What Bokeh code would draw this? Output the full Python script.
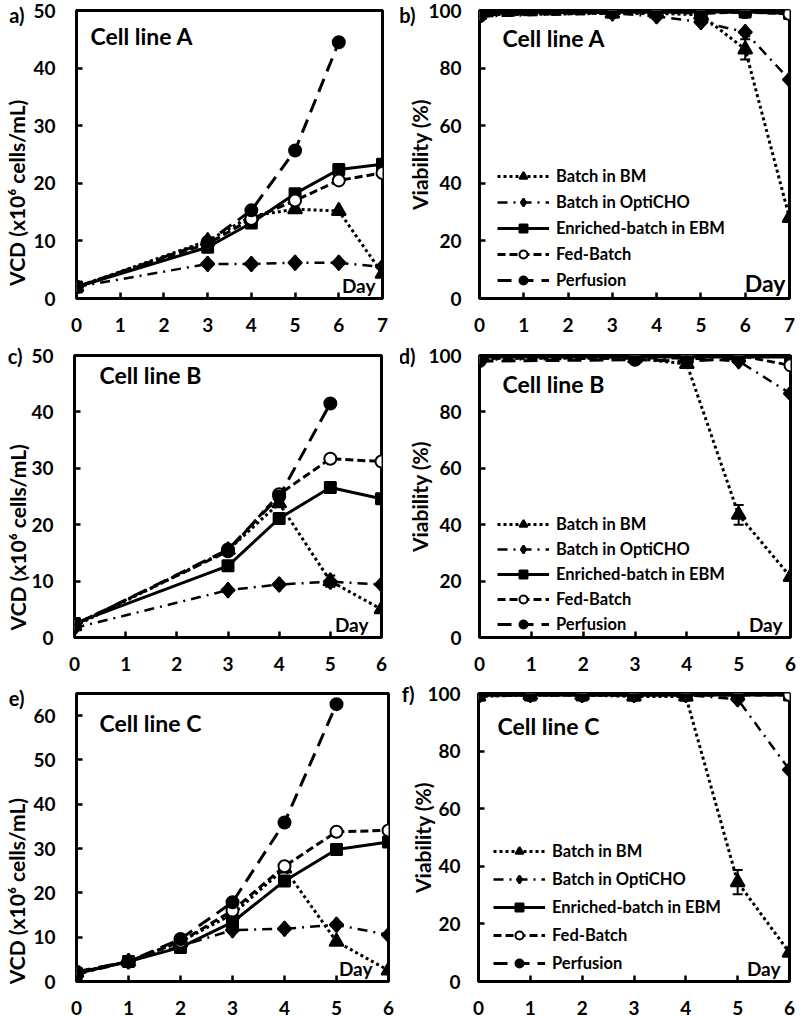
from bokeh.plotting import figure
from bokeh.models import (Range1d, FixedTicker, Label, Legend, LegendItem,
                          Whisker, ColumnDataSource, TeeHead, LinearAxis)
from bokeh.layouts import column, row
from bokeh.embed import file_html
from bokeh.resources import INLINE

FONT = "Lato"

# ---------------- data ----------------
series_names = ["Batch in BM", "Batch in OptiCHO", "Enriched-batch in EBM",
                "Fed-Batch", "Perfusion"]

# Cell line A
days_a = [0, 3, 4, 5, 6, 7]
days_a_perf = [0, 3, 4, 5, 6]
vcd_a_bm = [2.0, 10.0, 14.3, 15.5, 15.2, 4.3]
vcd_a_opt = [2.0, 6.0, 6.0, 6.2, 6.2, 5.5]
vcd_a_enr = [2.0, 8.9, 13.1, 18.2, 22.4, 23.3]
vcd_a_fed = [2.0, 9.5, 13.8, 17.0, 20.5, 21.8]
vcd_a_per = [2.0, 9.8, 15.3, 25.7, 44.5]

via_a_bm = [98.5, 99.0, 99.0, 98.5, 86.5, 28.0]
via_a_opt = [98.0, 99.0, 98.0, 96.0, 92.5, 76.0]
via_a_enr = [99.0, 99.5, 99.5, 99.5, 99.5, 99.0]
via_a_fed = [98.5, 99.5, 99.5, 99.0, 99.5, 98.8]
via_a_per = [98.0, 99.5, 99.5, 99.5, 99.5]
via_a_bm_err = [0, 0, 0, 0, 3.5, 0]

# Cell line B
days_b = [0, 3, 4, 5, 6]
days_b_perf = [0, 3, 4, 5]
vcd_b_bm = [2.0, 15.5, 23.8, 10.0, 5.0]
vcd_b_opt = [1.7, 8.4, 9.4, 9.9, 9.4]
vcd_b_enr = [2.5, 12.7, 21.1, 26.6, 24.6]
vcd_b_fed = [2.3, 15.3, 25.4, 31.7, 31.2]
vcd_b_per = [2.2, 15.6, 25.0, 41.5]
vcd_b_bm_err = [0, 0, 0, 1.0, 0]

via_b_bm = [99.0, 99.0, 97.0, 43.5, 21.5]
via_b_opt = [98.5, 99.0, 99.0, 98.0, 86.5]
via_b_enr = [99.5, 99.5, 99.5, 99.5, 99.5]
via_b_fed = [99.0, 99.5, 100.0, 100.0, 96.5]
via_b_per = [98.0, 98.5, 98.0, 99.0]
via_b_bm_err = [0, 0, 0, 3.5, 0]

# Cell line C
days_c = [0, 1, 2, 3, 4, 5, 6]
days_c_perf = [0, 1, 2, 3, 4, 5]
vcd_c_bm = [2.0, 4.5, 9.0, 15.2, 25.5, 9.0, 2.5]
vcd_c_opt = [1.5, 4.5, 8.0, 11.6, 11.9, 12.8, 10.5]
vcd_c_enr = [1.8, 4.5, 7.7, 13.4, 22.7, 29.8, 31.5]
vcd_c_fed = [2.0, 4.5, 9.0, 16.0, 26.0, 33.8, 34.1]
vcd_c_per = [2.2, 4.5, 9.6, 17.9, 35.9, 62.6]

via_c_bm = [99.0, 99.5, 99.5, 99.0, 99.0, 34.5, 10.0]
via_c_opt = [99.0, 99.5, 99.5, 99.5, 99.5, 98.0, 73.5]
via_c_enr = [99.5, 99.5, 99.5, 99.5, 99.5, 99.5, 99.5]
via_c_fed = [99.5, 99.5, 99.5, 99.5, 99.5, 99.5, 99.5]
via_c_per = [99.5, 99.5, 99.5, 99.5, 99.5, 99.5]
via_c_bm_err = [0, 0, 0, 0, 0, 4.2, 0]

vcd_title = "VCD (x10\u2076 cells/mL)"
via_title = "Viability (%)"
vcd_ticks = [0, 10, 20, 30, 40, 50]
vcd_ticks_c = [0, 10, 20, 30, 40, 50, 60]
via_ticks = [0, 20, 40, 60, 80, 100]

NB = "\u00a0"  # non-breaking space, used to nudge the VCD title downwards

# ---------------- styles ----------------
STYLES = [
    dict(dash="3 3", lw=3, marker="triangle", size=14, angle=0.0, fill="black"),
    dict(dash="10 6 2 6", lw=2.5, marker="square", size=9.5, angle=0.785398, fill="black"),
    dict(dash="solid", lw=3, marker="square", size=11, angle=0.0, fill="black"),
    dict(dash="8 4", lw=3, marker="circle", size=12, angle=0.0, fill="white"),
    dict(dash="14 8", lw=3, marker="circle", size=12, angle=0.0, fill="black"),
]


def make_fig(w, h, bl, br, bt, bb, xmax, ymax, xticks, yticks,
             ystand, letter, letter_y, letter_stand, title, title_stand, title_size):
    p = figure(width=w, height=h, output_backend="svg", toolbar_location=None,
               x_range=Range1d(0, xmax), y_range=Range1d(0, ymax),
               min_border_left=bl, min_border_right=br,
               min_border_top=bt, min_border_bottom=bb)
    p.xgrid.visible = False
    p.ygrid.visible = False
    p.outline_line_color = "black"
    p.outline_line_width = 3
    p.background_fill_color = "white"
    p.border_fill_color = "white"
    for ax in (p.xaxis[0], p.yaxis[0]):
        ax.axis_line_color = None
        ax.major_tick_in = 6
        ax.major_tick_out = 0
        ax.minor_tick_line_color = None
        ax.major_tick_line_width = 2.5
        ax.major_tick_line_color = "black"
        ax.major_label_text_font = FONT
        ax.major_label_text_font_style = "bold"
        ax.major_label_text_font_size = "19px"
        ax.major_label_text_color = "black"
    p.xaxis[0].ticker = FixedTicker(ticks=xticks)
    p.yaxis[0].ticker = FixedTicker(ticks=yticks)
    p.xaxis[0].major_label_standoff = 19
    p.yaxis[0].major_label_standoff = ystand
    # outer left axis carrying the panel letter and the axis title
    ax2 = LinearAxis(ticker=FixedTicker(ticks=[letter_y]),
                     major_label_overrides={letter_y: letter},
                     axis_line_color=None, major_tick_line_color=None,
                     minor_tick_line_color=None, major_tick_out=0, major_tick_in=0,
                     major_label_standoff=letter_stand,
                     major_label_text_font=FONT, major_label_text_font_style="bold",
                     major_label_text_font_size="20px", major_label_text_color="black",
                     axis_label=title, axis_label_standoff=title_stand,
                     axis_label_text_font=FONT, axis_label_text_font_style="bold",
                     axis_label_text_font_size=title_size, axis_label_text_color="black")
    p.add_layout(ax2, "left")
    return p


def draw(p, xs_list, ys_list, err=None):
    rends = []
    if err is not None:
        ex, ey, ee = err
        lower = [y - e for y, e in zip(ey, ee) if e > 0]
        upper = [y + e for y, e in zip(ey, ee) if e > 0]
        base = [x for x, e in zip(ex, ee) if e > 0]
        src = ColumnDataSource(dict(base=base, lower=lower, upper=upper))
        wk = Whisker(base="base", lower="lower", upper="upper", source=src,
                     line_color="black", line_width=2,
                     upper_head=TeeHead(size=10, line_width=2, line_color="black"),
                     lower_head=TeeHead(size=10, line_width=2, line_color="black"))
        p.add_layout(wk)
    for i, (st, xs, ys) in enumerate(zip(STYLES, xs_list, ys_list)):
        l = p.line(xs, ys, line_color="black", line_width=st["lw"], line_dash=st["dash"])
        leg = None
        if i == 1:
            # diamond glyph (hidden under the rotated squares) used as legend swatch
            leg = p.scatter(xs, ys, marker="diamond", size=15, fill_color="black",
                            line_color="black", line_width=2)
        s = p.scatter(xs, ys, marker=st["marker"], size=st["size"], angle=st["angle"],
                      fill_color=st["fill"], line_color="black", line_width=2)
        rends.append((l, leg if leg is not None else s))
    return rends


def add_text(p, text, x, y, size, align="left", baseline="middle"):
    p.add_layout(Label(x=x, y=y, x_units="screen", y_units="screen", text=text,
                       text_font=FONT, text_font_style="bold", text_font_size=size,
                       text_color="black", text_align=align, text_baseline=baseline))


def add_legend(p, rends, vx, vy, spacing):
    items = [LegendItem(label=n, renderers=[l, s]) for n, (l, s) in zip(series_names, rends)]
    lg = Legend(items=items, location=(vx, vy), glyph_width=52, glyph_height=20,
                label_height=20, label_standoff=7, spacing=spacing, padding=0, margin=0,
                border_line_alpha=0, background_fill_alpha=0,
                label_text_font=FONT, label_text_font_style="bold",
                label_text_font_size="16.5px", label_text_color="black")
    p.add_layout(lg)


W = 400

# a
fa = 306
pa = make_fig(W, 340, 76, W - 76 - fa, 10, 42, 7, 50, list(range(8)), vcd_ticks,
              21, "a)", 50, 6, vcd_title + NB * 15, -23, "21px")
ra = draw(pa, [days_a, days_a, days_a, days_a, days_a_perf],
          [vcd_a_bm, vcd_a_opt, vcd_a_enr, vcd_a_fed, vcd_a_per])
add_text(pa, "Cell line A", 14, 263, "23px")
add_text(pa, "Day", fa - 7, 2, "19px", align="right", baseline="bottom")

# b
fb = 310
pb = make_fig(W, 340, 79, W - 79 - fb, 10, 42, 7, 100, list(range(8)), via_ticks,
              18, "b)", 100, 10, via_title, -36, "21px")
rb = draw(pb, [days_a, days_a, days_a, days_a, days_a_perf],
          [via_a_bm, via_a_opt, via_a_enr, via_a_fed, via_a_per],
          err=(days_a, via_a_bm, via_a_bm_err))
add_text(pb, "Cell line A", 23, 261, "23px")
add_text(pb, "Day", fb - 4, 2, "23px", align="right", baseline="bottom")
add_legend(pb, rb, 18, 8, 6)

# c
fc = 307
pc = make_fig(W, 340, 74, W - 74 - fc, 15, 42, 6, 50, list(range(7)), vcd_ticks,
              21, "c)", 50, 6, vcd_title + NB * 16, -25, "21px")
rc = draw(pc, [days_b, days_b, days_b, days_b, days_b_perf],
          [vcd_b_bm, vcd_b_opt, vcd_b_enr, vcd_b_fed, vcd_b_per],
          err=(days_b, vcd_b_bm, vcd_b_bm_err))
add_text(pc, "Cell line B", 25, 263, "23px")
add_text(pc, "Day", fc - 13, 2, "19px", align="right", baseline="bottom")

# d
fd = 311
pd_ = make_fig(W, 340, 79, W - 79 - fd, 13, 43, 6, 100, list(range(7)), via_ticks,
               18, "d)", 100, 10, via_title, -36, "21px")
rd = draw(pd_, [days_b, days_b, days_b, days_b, days_b_perf],
          [via_b_bm, via_b_opt, via_b_enr, via_b_fed, via_b_per],
          err=(days_b, via_b_bm, via_b_bm_err))
add_text(pd_, "Cell line B", 23, 254, "23px")
add_text(pd_, "Day", fd - 8, 2, "19px", align="right", baseline="bottom")
add_legend(pd_, rd, 18, 3, 5)

# e
fe = 312
pe = make_fig(W, 337, 76, W - 76 - fe, 13, 36, 6, 65, list(range(7)), vcd_ticks_c,
              21, "e)", 64, 6, vcd_title + NB * 21, -23, "21px")
re_ = draw(pe, [days_c, days_c, days_c, days_c, days_c_perf],
           [vcd_c_bm, vcd_c_opt, vcd_c_enr, vcd_c_fed, vcd_c_per])
add_text(pe, "Cell line C", 23, 259, "23px")
add_text(pe, "Day", fe - 16, 2, "19px", align="right", baseline="bottom")

# f
ff = 311
pf = make_fig(W, 337, 78, W - 78 - ff, 13, 36, 6, 100, list(range(7)), via_ticks,
              18, "f)", 100, 10, via_title, -36, "21px")
rf = draw(pf, [days_c, days_c, days_c, days_c, days_c_perf],
          [via_c_bm, via_c_opt, via_c_enr, via_c_fed, via_c_per],
          err=(days_c, via_c_bm, via_c_bm_err))
add_text(pf, "Cell line C", 19, 256, "23px")
add_text(pf, "Day", ff - 9, 2, "19px", align="right", baseline="bottom")
add_legend(pf, rf, 15, 8, 8)

layout = column(row(pa, pb), row(pc, pd_), row(pe, pf))
open("out.html", "w").write(file_html(layout, INLINE))
